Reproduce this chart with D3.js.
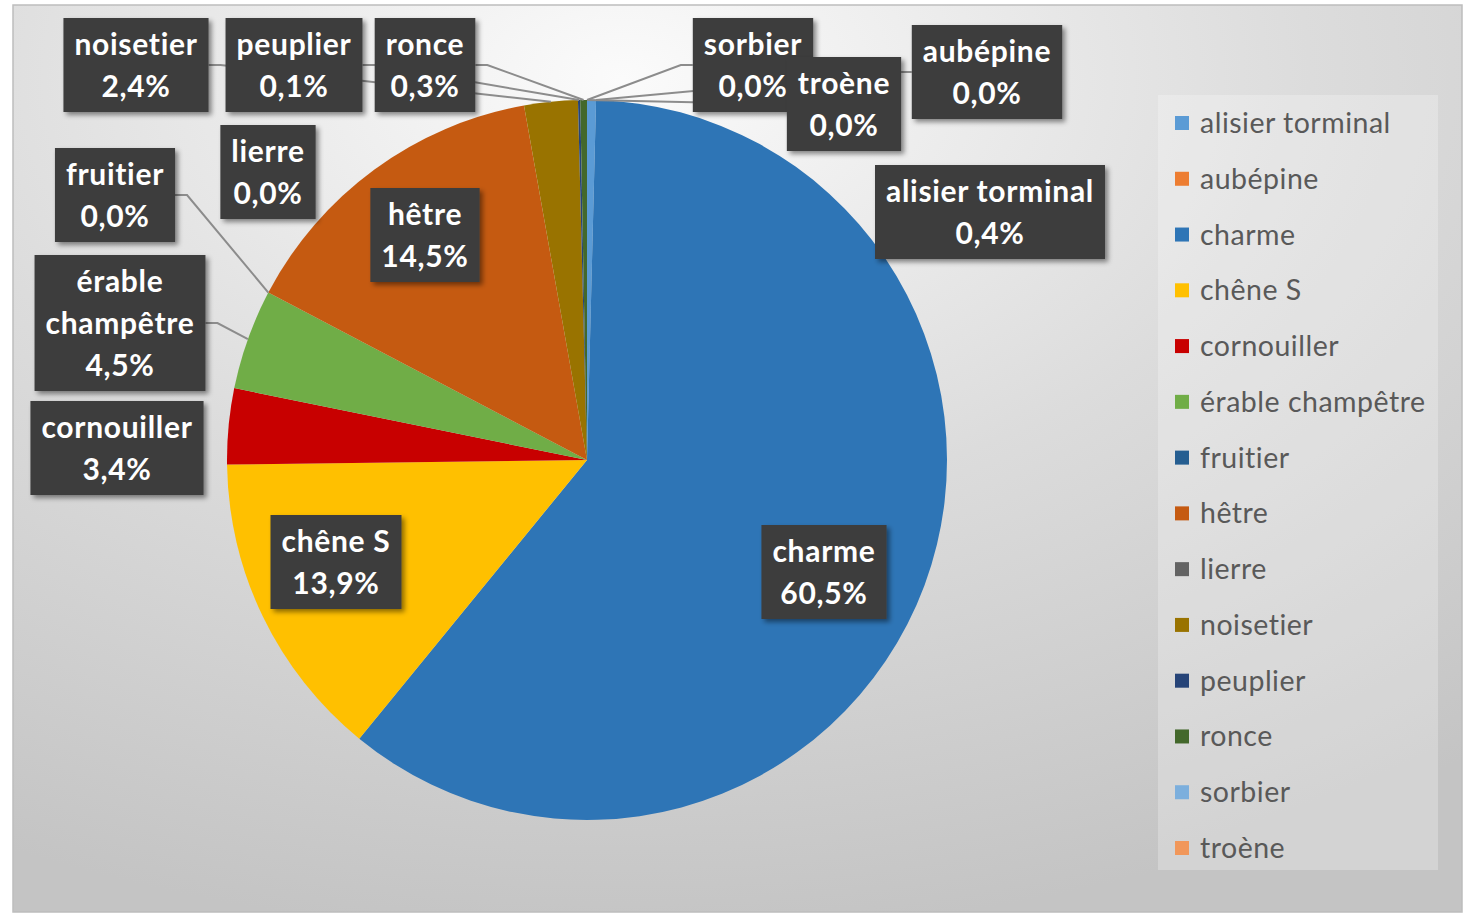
<!DOCTYPE html>
<html>
<head>
<meta charset="utf-8">
<script src="https://cdn.jsdelivr.net/npm/d3@7"></script>
<style>
  body { margin: 0; background: #fff; }
  svg { display: block; }
  text { font-variant-ligatures: none; }
</style>
</head>
<body>
<div id="graf"></div>
<script>
// Répartition des essences (camembert)

// données
essences = ['alisier torminal', 'aubépine', 'charme', 'chêne S', 'cornouiller',
            'érable champêtre', 'fruitier', 'hêtre', 'lierre', 'noisetier',
            'peuplier', 'ronce', 'sorbier', 'troène']
pourcent = [0.4, 0.0, 60.5, 13.9, 3.4, 4.5, 0.0, 14.5, 0.0, 2.4, 0.1, 0.3, 0.0, 0.0]
couleurs = ['#5b9bd5', '#ed7d31', '#2e75b6', '#ffc000', '#c80000',
            '#70ad47', '#255e91', '#c55a11', '#636363', '#997300',
            '#264478', '#43682b', '#7cafdd', '#f1975a']

// position des étiquettes (centre de la boîte) et ligne de rappel
etiquettes = {
  'alisier torminal': { cx: 990, cy: 212, ligne: false },
  'aubépine':         { cx: 987, cy: 72,  ligne: true },
  'charme':           { cx: 824, cy: 572, ligne: false },
  'chêne S':          { cx: 336, cy: 562, ligne: false },
  'cornouiller':      { cx: 117, cy: 448, ligne: false },
  'érable champêtre': { cx: 120, cy: 323, ligne: true, coupe: true },
  'fruitier':         { cx: 115, cy: 195, ligne: true },
  'hêtre':            { cx: 425, cy: 235, ligne: false },
  'lierre':           { cx: 268, cy: 172, ligne: false },
  'noisetier':        { cx: 136, cy: 65,  ligne: true },
  'peuplier':         { cx: 294, cy: 65,  ligne: true },
  'ronce':            { cx: 425, cy: 65,  ligne: true },
  'sorbier':          { cx: 753, cy: 65,  ligne: true },
  'troène':           { cx: 844, cy: 104, ligne: true }
}

ancho_total = 1470
alto_total  = 914
centro = { x: 587, y: 460 }
radio = 360

svg = d3.select('#graf').append('svg')
        .attr('width', ancho_total)
        .attr('height', alto_total)

defs = svg.append('defs')
grad = defs.append('radialGradient')
           .attr('id', 'fondo')
           .attr('cx', '42%').attr('cy', '8%').attr('r', '95%')
grad.append('stop').attr('offset', '0%').attr('stop-color', '#fbfbfb')
grad.append('stop').attr('offset', '50%').attr('stop-color', '#dcdcdc')
grad.append('stop').attr('offset', '100%').attr('stop-color', '#c4c4c4')

sombra = defs.append('filter').attr('id', 'sombra')
              .attr('x', '-20%').attr('y', '-20%').attr('width', '150%').attr('height', '150%')
sombra.append('feDropShadow')
      .attr('dx', 3).attr('dy', 3).attr('stdDeviation', 2.5)
      .attr('flood-color', '#000').attr('flood-opacity', 0.45)

// zone du graphique
svg.append('rect')
   .attr('x', 13).attr('y', 5)
   .attr('width', 1449).attr('height', 907)
   .attr('fill', 'url(#fondo)')
   .attr('stroke', '#bdbdbd').attr('stroke-width', 1.5)

// légende (panneau)
svg.append('rect')
   .attr('x', 1158).attr('y', 95)
   .attr('width', 280).attr('height', 775)
   .attr('fill', '#ffffff').attr('opacity', 0.25)

color = d3.scaleOrdinal().domain(essences).range(couleurs)

datos = essences.map((e, i) => ({ nom: e, val: pourcent[i] }))

pie = d3.pie().sort(null).value(d => d.val)
arcos = pie(datos)
arco = d3.arc().innerRadius(0).outerRadius(radio)
arcoBord = d3.arc().innerRadius(radio).outerRadius(radio)

g = svg.append('g')
       .attr('transform', `translate(${centro.x}, ${centro.y})`)

g.selectAll('path.part')
  .data(arcos)
  .join('path')
  .attr('class', 'part')
  .attr('d', arco)
  .attr('fill', d => color(d.data.nom))

// texte des étiquettes
fuente = 'Lato, "Open Sans", sans-serif'
tam = 30
espacio = 0.7
interl = 42

function lignes(nom, val) {
  let t = etiquettes[nom].coupe ? nom.split(' ') : [nom]
  t.push(d3.format('.1f')(val).replace('.', ',') + '%')
  return t
}

// mesure des textes pour la taille des boîtes
medida = svg.append('text').attr('font-family', fuente)
             .attr('font-size', tam).attr('font-weight', 'bold')
             .attr('letter-spacing', espacio)
function anchoTexto(s) {
  medida.text(s)
  return medida.node().getComputedTextLength()
}

cajas = arcos.map(d => {
  let e = etiquettes[d.data.nom]
  let ls = lignes(d.data.nom, d.data.val)
  let w = d3.max(ls, anchoTexto) + 22
  let h = ls.length * interl + 10
  return { d: d, e: e, ls: ls, x: e.cx - w / 2, y: e.cy - h / 2, w: w, h: h }
})
medida.remove()

// lignes de rappel
lin = svg.append('g')
cajas.filter(c => c.e.ligne).forEach(c => {
  let p = arcoBord.centroid(c.d)
  let px = centro.x + p[0], py = centro.y + p[1]
  let izq = px < c.e.cx
  let ax = izq ? c.x : c.x + c.w
  let ex = izq ? ax - 12 : ax + 12
  lin.append('path')
     .attr('d', d3.line()([[ax, c.e.cy], [ex, c.e.cy], [px, py]]))
     .attr('fill', 'none')
     .attr('stroke', '#8c8c8c')
     .attr('stroke-width', 2)
})

// boîtes d'étiquettes
orden = ['noisetier', 'peuplier', 'ronce', 'lierre', 'fruitier', 'érable champêtre',
         'cornouiller', 'hêtre', 'chêne S', 'charme', 'alisier torminal',
         'aubépine', 'sorbier', 'troène']
cajas.sort((a, b) => orden.indexOf(a.d.data.nom) - orden.indexOf(b.d.data.nom))

etq = svg.append('g').selectAll('g')
  .data(cajas)
  .join('g')

etq.append('rect')
   .attr('x', c => c.x).attr('y', c => c.y)
   .attr('width', c => c.w).attr('height', c => c.h)
   .attr('fill', '#3d3d3d')
   .attr('filter', 'url(#sombra)')

etq.each(function(c) {
  let t0 = c.e.cy - (c.ls.length - 1) * interl / 2
  d3.select(this).selectAll('text')
    .data(c.ls)
    .join('text')
    .attr('x', c.e.cx)
    .attr('y', (s, i) => t0 + i * interl)
    .attr('dy', '0.35em')
    .attr('text-anchor', 'middle')
    .attr('font-family', fuente)
    .attr('font-size', tam)
    .attr('font-weight', 'bold')
    .attr('letter-spacing', espacio)
    .attr('fill', '#ffffff')
    .text(s => s)
})

// légende
y = d3.scalePoint().domain(essences).range([123, 848])
ley = svg.append('g').selectAll('g')
  .data(essences)
  .join('g')
  .attr('transform', d => `translate(1175, ${y(d)})`)
ley.append('rect')
   .attr('x', 0).attr('y', -7)
   .attr('width', 14).attr('height', 14)
   .attr('fill', d => color(d))
ley.append('text')
   .attr('x', 25).attr('dy', '0.35em')
   .attr('font-family', fuente)
   .attr('font-size', 28.5)
   .attr('letter-spacing', 0.5)
   .attr('fill', '#595959')
   .text(d => d)
</script>
</body>
</html>
